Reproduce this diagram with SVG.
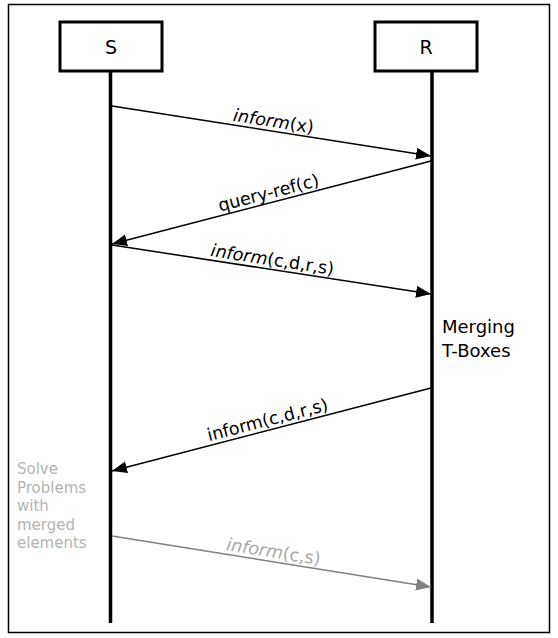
<svg xmlns="http://www.w3.org/2000/svg" width="558" height="638" viewBox="0 0 558 638">
<style>
  .box { fill: #ffffff; stroke: #000000; stroke-width: 3; }
  .life { stroke: #000000; stroke-width: 3.5; fill: none; }
  .msg { stroke: #000000; stroke-width: 1.5; fill: none; marker-end: url(#ah); }
  .msg-grey { stroke: #808080; stroke-width: 1.5; fill: none; marker-end: url(#ahg); }
  .title { font-family: "DejaVu Sans", "Liberation Sans", sans-serif; font-size: 19px; fill: #000000; text-anchor: middle; }
  .lbl { font-family: "DejaVu Sans", "Liberation Sans", sans-serif; font-size: 17.5px; fill: #000000; text-anchor: middle; }
  .lbl-grey { font-family: "DejaVu Sans", "Liberation Sans", sans-serif; font-size: 17.5px; fill: #a8a8a8; text-anchor: middle; }
  .note { font-family: "DejaVu Sans", "Liberation Sans", sans-serif; font-size: 18px; fill: #000000; }
  .note-grey { font-family: "DejaVu Sans", "Liberation Sans", sans-serif; font-size: 15px; fill: #b4b4b4; }
  .it { font-style: italic; }
</style>
<defs>
  <marker id="ah" markerUnits="userSpaceOnUse" markerWidth="16" markerHeight="13" refX="15" refY="6" orient="auto">
    <path d="M0,0 L15,6 L0,12 Z" fill="#000000"/>
  </marker>
  <marker id="ahg" markerUnits="userSpaceOnUse" markerWidth="16" markerHeight="13" refX="15" refY="6" orient="auto">
    <path d="M0,0 L15,6 L0,12 Z" fill="#808080"/>
  </marker>
</defs>
<rect x="0" y="0" width="558" height="638" fill="#ffffff"/>
<rect x="8.5" y="4.5" width="541" height="628" fill="none" stroke="#000000" stroke-width="1.5"/>

<g id="node-S">
  <line class="life" x1="110.5" y1="71" x2="110.5" y2="623"/>
  <rect class="box" x="60" y="22" width="102" height="49"/>
  <text class="title" x="111" y="54">S</text>
</g>
<g id="node-R">
  <line class="life" x1="432" y1="71" x2="432" y2="623"/>
  <rect class="box" x="375" y="22" width="102" height="49"/>
  <text class="title" x="426" y="54">R</text>
</g>

<g id="connectors">
  <line class="msg" x1="112" y1="106" x2="431" y2="156"/>
  <line class="msg" x1="431" y1="161" x2="112" y2="244"/>
  <line class="msg" x1="112" y1="245" x2="431" y2="294"/>
  <line class="msg" x1="431" y1="388" x2="112" y2="471"/>
  <line class="msg-grey" x1="112" y1="536" x2="431" y2="587"/>
</g>

<g id="labels">
  <text class="lbl" transform="translate(272,131) rotate(8.83)" y="-4"><tspan class="it">inform</tspan>(x)</text>
  <text class="lbl" transform="translate(271,202.5) rotate(-14.54)" y="-4">query-ref(c)</text>
  <text class="lbl" transform="translate(271,269.5) rotate(8.71)" y="-4"><tspan class="it">inform</tspan>(c,d,r,s)</text>
  <text class="lbl" transform="translate(270,429.5) rotate(-14.54)" y="-4">inform(c,d,r,s)</text>
  <text class="lbl-grey" transform="translate(272,561.5) rotate(9.06)" y="-4"><tspan class="it">inform</tspan>(c,s)</text>
</g>

<g id="note-merging">
  <text class="note" x="442" y="333">Merging</text>
  <text class="note" x="442" y="357">T-Boxes</text>
</g>
<g id="note-solve">
  <text class="note-grey" x="17" y="474">Solve</text>
  <text class="note-grey" x="17" y="492.5">Problems</text>
  <text class="note-grey" x="17" y="511">with</text>
  <text class="note-grey" x="17" y="529.5">merged</text>
  <text class="note-grey" x="17" y="548">elements</text>
</g>
</svg>
